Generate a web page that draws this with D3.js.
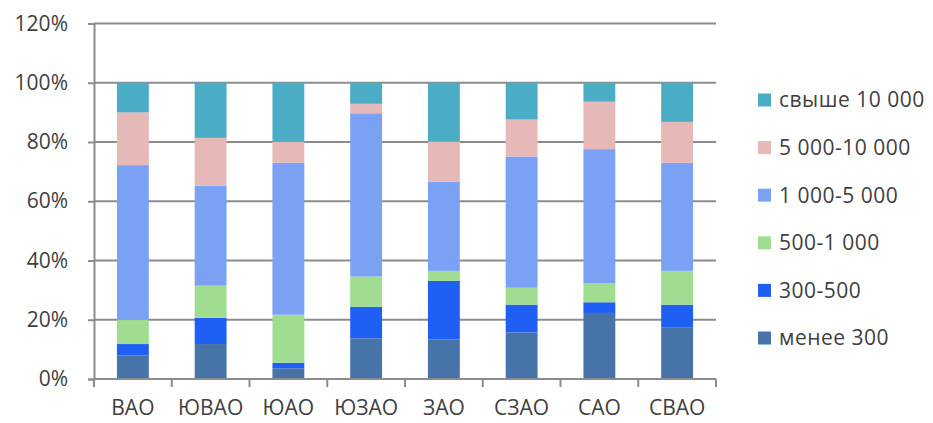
<!DOCTYPE html>
<html>
<head>
<meta charset="utf-8">
<script src="https://cdn.jsdelivr.net/npm/d3@7"></script>
<style>
  html, body { margin: 0; padding: 0; background: #fff; }
  svg { display: block; }
  text { font-family: "Open Sans", "Noto Sans", sans-serif; fill: #404040; }
</style>
</head>
<body>
<svg id="chart" width="933" height="423"></svg>
<script>
// Districts of Moscow
const districts = ["ВАО", "ЮВАО", "ЮАО", "ЮЗАО", "ЗАО", "СЗАО", "САО", "СВАО"];

// Size groups, bottom to top of each stacked bar
const groups = ["менее 300", "300-500", "500-1 000", "1 000-5 000", "5 000-10 000", "свыше 10 000"];

// Share of each group per district, %
const under300   = [8.0, 11.8, 3.6, 13.7, 13.4, 15.7, 22.3, 17.3];
const from300    = [3.8,  8.9, 1.9, 10.7, 19.7,  9.4,  3.6,  7.8];
const from500    = [8.1, 10.8, 16.2, 10.2, 3.4,  5.7,  6.5, 11.4];
const from1000   = [52.3, 33.7, 51.3, 55.1, 30.1, 44.3, 45.2, 36.5];
const from5000   = [17.8, 16.2, 7.1,  3.2, 13.6, 12.5, 16.0, 13.8];
const over10000  = [10.0, 18.6, 19.9, 7.1, 19.8, 12.4, 6.4, 13.2];

const yTicks = [0, 20, 40, 60, 80, 100, 120];

const colors = ["#4673a8", "#1f5ff4", "#a1dd90", "#7ba1f5", "#e6b8b7", "#4bacc6"];

const seriesValues = [under300, from300, from500, from1000, from5000, over10000];

const rows = districts.map((d, i) => {
  const r = { district: d };
  groups.forEach((g, k) => { r[g] = seriesValues[k][i]; });
  return r;
});

const svg = d3.select("#chart");
const plot = { left: 94, right: 716, top: 23.5, bottom: 379 };

const x = d3.scaleBand().domain(districts).range([plot.left, plot.right]).paddingInner(0.59).paddingOuter(0.295);
const xBand = d3.scaleBand().domain(districts).range([plot.left, plot.right]);
const y = d3.scaleLinear().domain([0, 120]).range([plot.bottom, plot.top]);

// Horizontal gridlines
svg.append("g")
  .selectAll("line")
  .data(yTicks.filter(t => t > 0))
  .join("line")
  .attr("x1", plot.left).attr("x2", plot.right)
  .attr("y1", d => y(d)).attr("y2", d => y(d))
  .attr("stroke", "#8c8c8c").attr("stroke-width", 2);

// Stacked bars
const stack = d3.stack().keys(groups)(rows);
svg.append("g")
  .selectAll("g")
  .data(stack)
  .join("g")
  .attr("fill", (d, i) => colors[i])
  .selectAll("rect")
  .data(d => d)
  .join("rect")
  .attr("x", d => x(d.data.district))
  .attr("width", x.bandwidth())
  .attr("y", d => y(d[1]))
  .attr("height", d => y(d[0]) - y(d[1]));

// Y axis
const yAxis = svg.append("g")
  .attr("transform", `translate(${plot.left},0)`)
  .call(d3.axisLeft(y).tickValues(yTicks).tickSize(6).tickPadding(20).tickFormat(d => d + "%"));
yAxis.select(".domain").attr("stroke", "#8c8c8c").attr("stroke-width", 2);
yAxis.selectAll(".tick line").attr("stroke", "#8c8c8c").attr("stroke-width", 2);
yAxis.selectAll(".tick text").style("font-size", "21px").attr("fill", "#404040");

// X axis with ticks at category boundaries
const xAxis = svg.append("g").attr("transform", `translate(0,${plot.bottom})`);
xAxis.append("line")
  .attr("x1", plot.left).attr("x2", plot.right)
  .attr("stroke", "#8c8c8c").attr("stroke-width", 2);
const bounds = districts.map(d => xBand(d)).concat([plot.right]);
xAxis.selectAll("line.tk")
  .data(bounds)
  .join("line").attr("class", "tk")
  .attr("x1", d => d).attr("x2", d => d)
  .attr("y1", 0).attr("y2", 8)
  .attr("stroke", "#8c8c8c").attr("stroke-width", 2);
xAxis.selectAll("text")
  .data(districts)
  .join("text")
  .attr("x", d => xBand(d) + xBand.bandwidth() / 2)
  .attr("y", 36)
  .attr("text-anchor", "middle")
  .style("font-size", "21px")
  .text(d => d);

// Legend, top entry is the top of the stack
const legend = svg.append("g");
const legendItems = groups.map((g, i) => ({ g, c: colors[i] })).reverse();
const ly = d3.scalePoint().domain(legendItems.map(d => d.g)).range([100, 338]);
const li = legend.selectAll("g").data(legendItems).join("g")
  .attr("transform", d => `translate(758,${ly(d.g)})`);
li.append("rect").attr("x", 0).attr("y", -6.5).attr("width", 13).attr("height", 13).attr("fill", d => d.c);
li.append("text").attr("x", 21).attr("y", 0).attr("dy", "0.35em")
  .style("font-size", "21px").style("letter-spacing", "0.5px").text(d => d.g);
</script>
</body>
</html>
